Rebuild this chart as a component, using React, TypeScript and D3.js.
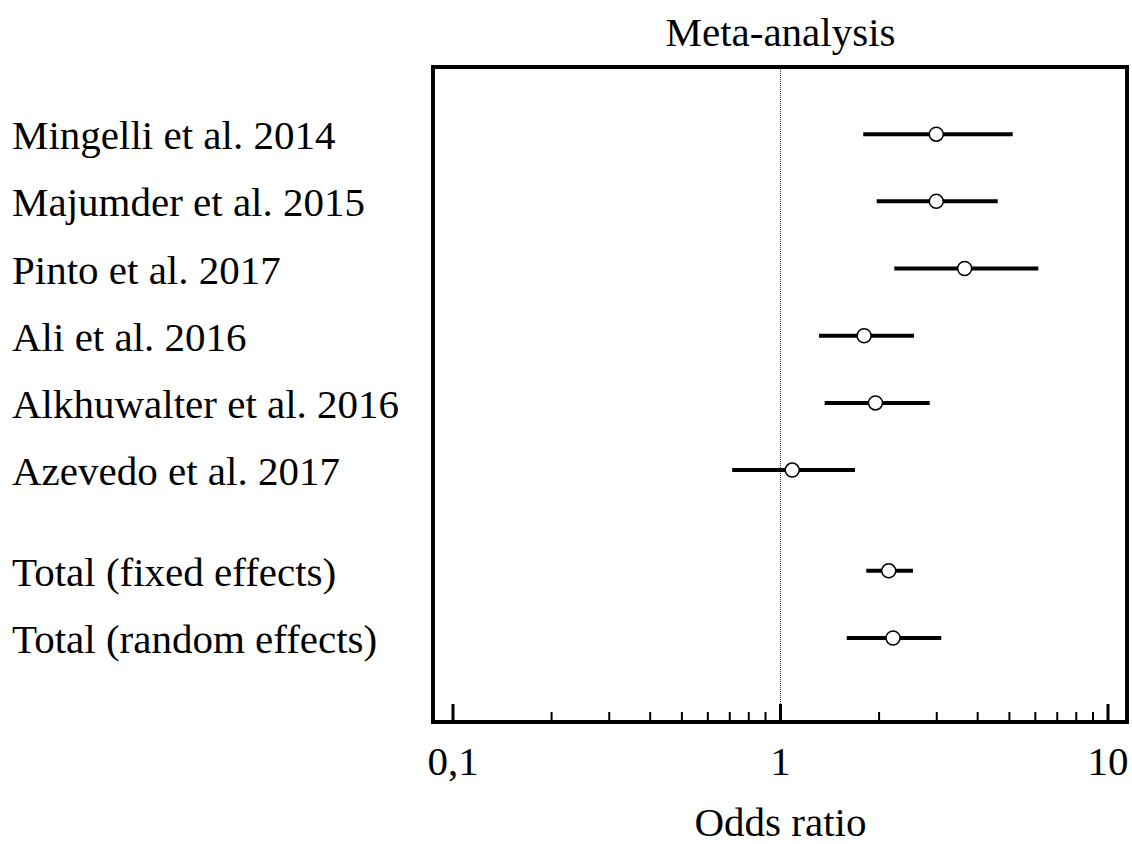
import React from "react";
import * as d3 from "d3";

const studies = [
  "Mingelli et al. 2014",
  "Majumder et al. 2015",
  "Pinto et al. 2017",
  "Ali et al. 2016",
  "Alkhuwalter et al. 2016",
  "Azevedo et al. 2017",
  "Total (fixed effects)",
  "Total (random effects)",
];
const rowIndex = [0, 1, 2, 3, 4, 5, 6.5, 7.5];
const oddsRatio = [2.99, 2.99, 3.65, 1.8, 1.95, 1.086, 2.14, 2.206];
const lowerCI = [1.789, 1.967, 2.226, 1.311, 1.364, 0.712, 1.828, 1.593];
const upperCI = [5.117, 4.605, 6.127, 2.556, 2.855, 1.688, 2.539, 3.097];
const majorTicks = [0.1, 1, 10];
const majorTickLabels = ["0,1", "1", "10"];

const W = 1132;
const H = 844;
const FONT = "'Liberation Serif', 'Times New Roman', serif";

export default function App() {
  const frame = { left: 433, right: 1127, top: 67, bottom: 722 };
  const x = d3.scaleLog().domain([0.1, 10]).range([453, 1108]);
  const y = d3.scaleLinear().domain([-1, 8.75]).range([frame.top, frame.bottom]);

  const minorTicks: number[] = [];
  for (const base of [0.1, 1]) {
    for (let k = 2; k <= 9; k++) minorTicks.push(base * k);
  }

  return (
    <svg
      width={W}
      height={H}
      style={{ position: "absolute", left: 0, top: 0, background: "#fff" }}
      fontFamily={FONT}
    >
      <rect x={0} y={0} width={W} height={H} fill="#fff" />
      {/* title */}
      <text x={x(1)} y={46} textAnchor="middle" fontSize={41} fill="#000">
        Meta-analysis
      </text>
      {/* reference line at 1 */}
      <line
        x1={x(1)}
        x2={x(1)}
        y1={frame.top}
        y2={frame.bottom}
        stroke="#444"
        strokeWidth={1}
        strokeDasharray="1,1"
      />
      {/* ticks */}
      {minorTicks.map((t) => (
        <line
          key={"m" + t}
          x1={x(t)}
          x2={x(t)}
          y1={frame.bottom}
          y2={frame.bottom - 10}
          stroke="#000"
          strokeWidth={2}
        />
      ))}
      {majorTicks.map((t, i) => (
        <g key={"M" + t}>
          <line
            x1={x(t)}
            x2={x(t)}
            y1={frame.bottom}
            y2={frame.bottom - 18}
            stroke="#000"
            strokeWidth={3}
          />
          <text x={x(t)} y={775} textAnchor="middle" fontSize={41} fill="#000">
            {majorTickLabels[i]}
          </text>
        </g>
      ))}
      {/* frame */}
      <rect
        x={frame.left}
        y={frame.top}
        width={frame.right - frame.left}
        height={frame.bottom - frame.top}
        fill="none"
        stroke="#000"
        strokeWidth={4}
      />
      {/* x axis title */}
      <text x={x(1)} y={836} textAnchor="middle" fontSize={41} fill="#000">
        Odds ratio
      </text>
      {/* rows */}
      {studies.map((s, i) => {
        const cy = y(rowIndex[i]);
        return (
          <g key={s}>
            <text x={12} y={cy + 15} fontSize={41} fill="#000">
              {s}
            </text>
            <line
              x1={x(lowerCI[i])}
              x2={x(upperCI[i])}
              y1={cy}
              y2={cy}
              stroke="#000"
              strokeWidth={4}
            />
            <circle cx={x(oddsRatio[i])} cy={cy} r={7} fill="#fff" stroke="#000" strokeWidth={1.5} />
          </g>
        );
      })}
    </svg>
  );
}
